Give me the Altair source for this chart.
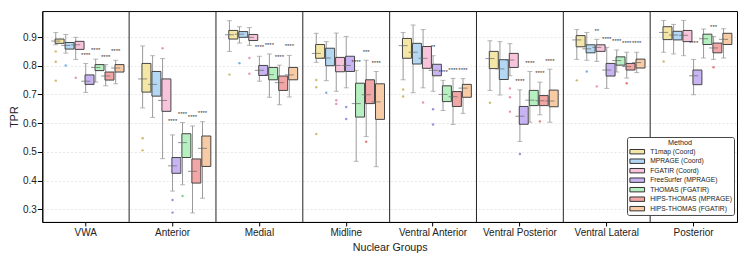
import altair as alt
import pandas as pd

GROUPS = ["VWA", "Anterior", "Medial", "Midline", "Ventral Anterior",
          "Ventral Posterior", "Ventral Lateral", "Posterior"]
METHODS = ["T1map (Coord)", "MPRAGE (Coord)", "FGATIR (Coord)", "FreeSurfer (MPRAGE)",
           "THOMAS (FGATIR)", "HIPS-THOMAS (MPRAGE)", "HIPS-THOMAS (FGATIR)"]
COLORS = ["#f3e6a6", "#b4d8f3", "#f7c4dc", "#c8b4f2", "#b6efc0", "#f2a6a6", "#f6cba6"]
OUT_COLORS = ["#c9b660", "#6fa8dc", "#e48ab6", "#9a7fd6", "#6fcf86", "#e07070", "#e8a070"]
Y_TICKS = [0.3, 0.4, 0.5, 0.6, 0.7, 0.8, 0.9]

# per group (rows) x per method (cols)
LO = [
    [0.873, 0.844, 0.822, 0.707, 0.743, 0.730, 0.737],
    [0.653, 0.620, 0.476, 0.363, 0.385, 0.287, 0.338],
    [0.850, 0.879, 0.871, 0.746, 0.690, 0.664, 0.691],
    [0.812, 0.748, 0.711, 0.723, 0.467, 0.553, 0.448],
    [0.751, 0.706, 0.723, 0.711, 0.644, 0.595, 0.634],
    [0.714, 0.698, 0.765, 0.536, 0.603, 0.629, 0.603],
    [0.822, 0.819, 0.815, 0.721, 0.778, 0.757, 0.776],
    [0.847, 0.841, 0.835, 0.699, 0.827, 0.822, 0.827],
]
Q1 = [
    [0.878, 0.858, 0.857, 0.735, 0.783, 0.750, 0.778],
    [0.708, 0.694, 0.641, 0.425, 0.480, 0.391, 0.449],
    [0.893, 0.899, 0.888, 0.766, 0.751, 0.714, 0.751],
    [0.826, 0.800, 0.779, 0.780, 0.621, 0.668, 0.613],
    [0.826, 0.806, 0.791, 0.765, 0.675, 0.658, 0.690],
    [0.790, 0.752, 0.794, 0.596, 0.661, 0.661, 0.657],
    [0.866, 0.845, 0.850, 0.764, 0.802, 0.785, 0.792],
    [0.891, 0.890, 0.884, 0.734, 0.874, 0.845, 0.874],
]
MED = [
    [0.886, 0.871, 0.873, 0.746, 0.794, 0.764, 0.792],
    [0.754, 0.735, 0.679, 0.451, 0.532, 0.432, 0.512],
    [0.908, 0.910, 0.899, 0.784, 0.769, 0.741, 0.768],
    [0.843, 0.827, 0.801, 0.801, 0.668, 0.699, 0.674],
    [0.870, 0.847, 0.826, 0.784, 0.700, 0.692, 0.722],
    [0.825, 0.789, 0.820, 0.624, 0.680, 0.678, 0.677],
    [0.890, 0.859, 0.864, 0.785, 0.818, 0.797, 0.811],
    [0.916, 0.907, 0.906, 0.765, 0.894, 0.862, 0.892],
]
Q3 = [
    [0.893, 0.881, 0.885, 0.768, 0.804, 0.778, 0.804],
    [0.808, 0.780, 0.754, 0.480, 0.563, 0.475, 0.555],
    [0.923, 0.919, 0.909, 0.801, 0.794, 0.764, 0.794],
    [0.874, 0.861, 0.829, 0.833, 0.739, 0.751, 0.737],
    [0.895, 0.878, 0.867, 0.805, 0.730, 0.710, 0.735],
    [0.850, 0.821, 0.843, 0.658, 0.714, 0.696, 0.715],
    [0.905, 0.873, 0.873, 0.808, 0.831, 0.808, 0.823],
    [0.936, 0.920, 0.923, 0.785, 0.910, 0.879, 0.913],
]
HI = [
    [0.916, 0.909, 0.899, 0.808, 0.823, 0.804, 0.819],
    [0.869, 0.835, 0.825, 0.559, 0.602, 0.590, 0.605],
    [0.957, 0.936, 0.933, 0.833, 0.841, 0.802, 0.836],
    [0.913, 0.884, 0.914, 0.902, 0.784, 0.819, 0.780],
    [0.916, 0.942, 0.926, 0.835, 0.749, 0.756, 0.755],
    [0.887, 0.884, 0.877, 0.716, 0.780, 0.743, 0.788],
    [0.926, 0.916, 0.892, 0.864, 0.855, 0.847, 0.847],
    [0.958, 0.944, 0.958, 0.822, 0.928, 0.902, 0.929],
]

STARS = [
    ["", "", "", "****", "****", "****", "****"],
    ["", "", "", "****", "****", "****", "****"],
    ["", "", "", "****", "****", "****", "****"],
    ["", "", "", "", "****", "***", "****"],
    ["", "", "", "**", "****", "****", "****"],
    ["", "", "", "****", "****", "****", "****"],
    ["", "", "**", "****", "****", "****", "****"],
    ["", "", "", "****", "", "***", ""],
]
STAR_Y = [
    [None, None, None, 0.842, 0.859, 0.837, 0.855],
    [None, None, None, 0.613, 0.638, 0.626, 0.642],
    [None, None, None, 0.870, 0.878, 0.836, 0.873],
    [None, None, None, None, 0.819, 0.853, 0.814],
    [None, None, None, 0.870, 0.784, 0.791, 0.790],
    [None, None, None, 0.751, 0.814, 0.779, 0.821],
    [None, None, 0.928, 0.898, 0.891, 0.884, 0.884],
    [None, None, None, 0.885, None, 0.941, None],
]

OUT_GROUP = [0, 0, 0, 0, 0,
             1, 1, 1, 1, 1, 1,
             2, 2, 2, 2,
             3, 3, 3, 3, 3, 3, 3, 3, 3,
             4, 4, 4, 4, 4,
             5, 5, 5, 5, 5, 5,
             6, 6, 6, 6,
             7, 7]
OUT_METHOD = [0, 0, 0, 1, 2,
              0, 0, 2, 3, 3, 4,
              0, 1, 2, 2,
              0, 0, 0, 1, 2, 2, 3, 3, 5,
              0, 0, 2, 3, 3,
              0, 2, 2, 2, 3, 5,
              0, 1, 2, 5,
              0, 5]
OUT_VALUE = [0.850, 0.814, 0.748, 0.801, 0.758,
             0.547, 0.505, 0.861, 0.332, 0.288, 0.346,
             0.769, 0.809, 0.827, 0.772,
             0.750, 0.725, 0.562, 0.706, 0.680, 0.667, 0.656, 0.614, 0.535,
             0.717, 0.693, 0.672, 0.648, 0.595,
             0.671, 0.721, 0.690, 0.640, 0.492, 0.606,
             0.749, 0.780, 0.728, 0.739,
             0.815, 0.795]

rows, star_rows = [], []
for gi, g in enumerate(GROUPS):
    for mi, m in enumerate(METHODS):
        rows.append(dict(group=g, method=m, lo=LO[gi][mi], q1=Q1[gi][mi],
                         med=MED[gi][mi], q3=Q3[gi][mi], hi=HI[gi][mi]))
        if STARS[gi][mi]:
            star_rows.append(dict(group=g, method=m, txt=STARS[gi][mi], y=STAR_Y[gi][mi]))
df = pd.DataFrame(rows)
df_star = pd.DataFrame(star_rows)
df_out = pd.DataFrame(dict(group=[GROUPS[i] for i in OUT_GROUP],
                           method=[METHODS[i] for i in OUT_METHOD],
                           v=OUT_VALUE,
                           col=[OUT_COLORS[i] for i in OUT_METHOD]))
df_sep = pd.DataFrame(dict(group=GROUPS[1:]))

xaxis = alt.Axis(labelAngle=0, grid=False)
yaxis = alt.Axis(values=Y_TICKS, format=".1f", grid=True, labelOverlap=False)

xs = alt.Scale(paddingInner=0, paddingOuter=0)
X = alt.X("group:N", sort=GROUPS, scale=xs, axis=xaxis, title="Nuclear Groups")
XO = alt.XOffset("method:N", sort=METHODS, scale=alt.Scale(paddingInner=0, paddingOuter=0.85))
ys = alt.Scale(domain=[0.2554, 0.9906], nice=False, zero=False)


def Y(field):
    return alt.Y(field, scale=ys, axis=yaxis, title="TPR")


base = alt.Chart(df)
whisk = base.mark_rule(color="#9a9a9a", strokeWidth=1).encode(
    x=X, xOffset=XO, y=Y("lo:Q"), y2="hi:Q")
cap_lo = base.mark_tick(color="#9a9a9a", size=5, thickness=1).encode(x=X, xOffset=XO, y=Y("lo:Q"))
cap_hi = base.mark_tick(color="#9a9a9a", size=5, thickness=1).encode(x=X, xOffset=XO, y=Y("hi:Q"))

legend = alt.Legend(title="Method", orient="none", legendX=585, legendY=126,
                    direction="vertical", titleAnchor="middle", titleFontSize=7.2,
                    titleFontWeight="normal", titleColor="#222", titlePadding=1,
                    labelFontSize=6.7, labelColor="#222", labelOffset=8.4,
                    symbolType="M-2,-0.6H2V0.6H-2Z", symbolSize=54, symbolOffset=3.7,
                    symbolStrokeColor="#333", symbolStrokeWidth=1, symbolOpacity=1,
                    rowPadding=0.5, padding=2, strokeColor="#444", fillColor="white",
                    cornerRadius=2)
box = base.mark_bar(width=alt.RelativeBandSize(0.9), stroke="#444", strokeWidth=1).encode(
    x=X, xOffset=XO, y=Y("q1:Q"), y2="q3:Q",
    fill=alt.Fill("method:N", sort=METHODS,
                  scale=alt.Scale(domain=METHODS, range=COLORS), legend=legend))
med = base.mark_tick(color="#666", size=9, thickness=1).encode(x=X, xOffset=XO, y=Y("med:Q"))

outl = alt.Chart(df_out).mark_circle(size=6, opacity=0.9).encode(
    x=X, xOffset=XO, y=Y("v:Q"), color=alt.Color("col:N", scale=None, legend=None))

stars = alt.Chart(df_star).mark_text(fontSize=6, color="#333", baseline="middle", dy=1.5).encode(
    x=X, xOffset=XO, y=Y("y:Q"), text="txt:N")

seps = alt.Chart(df_sep).mark_rule(color="#222", strokeWidth=1).encode(
    x=alt.X("group:N", sort=GROUPS, bandPosition=0, scale=xs, axis=xaxis, title="Nuclear Groups"))

chart = alt.layer(whisk, cap_lo, cap_hi, box, med, outl, stars, seps).properties(
    width=695, height=211,
    autosize=alt.AutoSizeParams(type="none"),
    padding={"left": 34.3, "top": 3, "right": 8, "bottom": 36},
).configure(font="Liberation Sans").configure_view(
    stroke="black", strokeWidth=1
).configure_axisX(
    labelAngle=0, tickSize=4, labelPadding=1.5, labelFontSize=10, titleFontSize=10.7,
    titlePadding=5, grid=False, domainColor="black", tickColor="black",
    labelColor="#222", titleColor="#222", titleFontWeight="normal"
).configure_axisY(
    gridDash=[2, 2], gridColor="#e2e2e2", gridWidth=0.8, tickSize=5, labelPadding=1,
    labelFontSize=10, titleFontSize=10.7, titlePadding=3, domainColor="black",
    tickColor="black", labelColor="#222", titleColor="#222", titleFontWeight="normal",
    labelOverlap=False
)

chart.save("out.html", embed_options={"renderer": "svg", "actions": False})
